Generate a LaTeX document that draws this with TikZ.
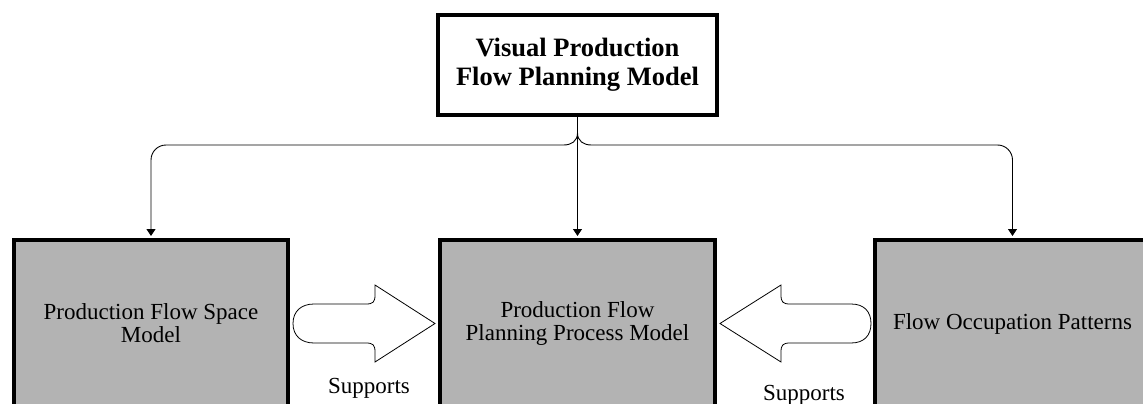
\documentclass[tikz,border=0pt]{standalone}
\usepackage{fontspec}
\setmainfont{Liberation Serif}
\usetikzlibrary{arrows.meta,calc}
\definecolor{boxgray}{RGB}{179,179,179}
\begin{document}
\begin{tikzpicture}[x=1pt,y=-1pt,
  modelbox/.style={draw, line width=4pt, fill=boxgray, minimum width=274pt,
    minimum height=167pt, align=center, inner sep=0pt,
    font=\fontsize{23}{23}\selectfont},
  topbox/.style={draw, line width=4pt, fill=white, minimum width=279pt,
    minimum height=100pt, align=center, inner sep=0pt,
    font=\fontsize{26.5}{29}\selectfont\bfseries},
  conn/.style={line width=0.9pt, -{Triangle[length=7pt,width=9pt]}, shorten >=2pt},
  blk/.style={draw, fill=white, line width=0.8pt, line join=miter},
  lbl/.style={font=\fontsize{23}{23}\selectfont, anchor=base, inner sep=0pt}]
\useasboundingbox (0,0) rectangle (1143,404);
\clip (0,0) rectangle (1143,404);

% boxes
\node[topbox] (top) at (577.5,65) {Visual Production\\Flow Planning Model};
\node[modelbox] (lb) at (151,323.5) {Production Flow Space\\Model};
\node[modelbox, minimum width=275pt] (mid) at (577.5,323.5) {Production Flow\\Planning Process Model};
\node[modelbox, minimum width=275pt] (rb) at (1012.5,323.5) {Flow Occupation Patterns};

% distribution connectors
\coordinate (split) at ($(top.south)+(0,16)$);
\coordinate (bar) at ($(top.south)+(0,28)$);
\draw[conn] (top.south) -- (mid.north);
\draw[conn] (split) .. controls +(0,8) and +(8,0) .. ($(split |- bar)+(-14,0)$)
  [rounded corners=15] -- (lb.north |- bar) -- (lb.north);
\draw[conn] (split) .. controls +(0,8) and +(-8,0) .. ($(split |- bar)+(14,0)$)
  [rounded corners=15] -- (rb.north |- bar) -- (rb.north);

% block arrow: space model -> process model
\draw[blk] ($(lb.east)+(24,-19.5)$) -- ($(mid.west)+(-72,-19.5)$)
  .. controls +(7,0) and +(0,7) .. ($(mid.west)+(-63,-28.5)$)
  -- ($(mid.west)+(-63,-38.5)$) -- ($(mid.west)+(-3,0)$)
  -- ($(mid.west)+(-63,38.5)$) -- ($(mid.west)+(-63,28.5)$)
  .. controls +(0,-7) and +(7,0) .. ($(mid.west)+(-72,19.5)$)
  -- ($(lb.east)+(24,19.5)$)
  .. controls +(-13,0) and +(0,12) .. ($(lb.east)+(3,0)$)
  .. controls +(0,-12) and +(-13,0) .. ($(lb.east)+(24,-19.5)$) -- cycle;

% block arrow: occupation patterns -> process model
\draw[blk] ($(rb.west)+(-22,-19.5)$) -- ($(mid.east)+(73,-19.5)$)
  .. controls +(-7,0) and +(0,7) .. ($(mid.east)+(64,-28.5)$)
  -- ($(mid.east)+(64,-38.5)$) -- ($(mid.east)+(3,0)$)
  -- ($(mid.east)+(64,38.5)$) -- ($(mid.east)+(64,28.5)$)
  .. controls +(0,-7) and +(-7,0) .. ($(mid.east)+(73,19.5)$)
  -- ($(rb.west)+(-22,19.5)$)
  .. controls +(13,0) and +(0,12) .. ($(rb.west)+(-2,0)$)
  .. controls +(0,-12) and +(13,0) .. ($(rb.west)+(-22,-19.5)$) -- cycle;

% labels
\node[lbl] (s1) at (369,393) {Supports};
\node[lbl] (s2) at (804,400) {Supports};
\end{tikzpicture}
\end{document}
